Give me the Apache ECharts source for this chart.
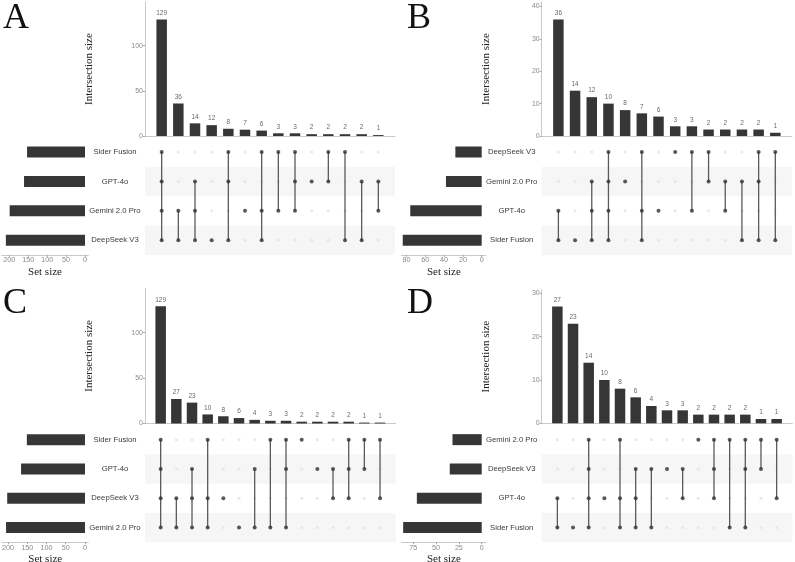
<!DOCTYPE html>
<html><head><meta charset="utf-8">
<script src="https://cdn.jsdelivr.net/npm/echarts@6/dist/echarts.min.js"></script>
<style>html,body{margin:0;padding:0;background:#fff}#c{width:795px;height:562px}</style>
</head><body><div id="c"></div>
<script>
const SF = 'Sider Fusion', GPT = 'GPT-4o', GEM = 'Gemini 2.0 Pro', DS = 'DeepSeek V3';

// Panel A
const setsA = [SF, GPT, GEM, DS];
const setSizesA = [153, 161, 199, 209];
const interSizesA = [129, 36, 14, 12, 8, 7, 6, 3, 3, 2, 2, 2, 2, 1];
const membersA = [[SF,GPT,GEM,DS],[GEM,DS],[GPT,GEM,DS],[DS],[SF,GPT,DS],[GEM],[SF,GEM,DS],[SF,GEM],[SF,GPT,GEM],[GPT],[SF,GPT],[SF,DS],[GPT,DS],[GPT,GEM]];
const barTicksA = [0, 50, 100];
const setTicksA = [0, 50, 100, 150, 200];

// Panel B
const setsB = [DS, GEM, GPT, SF];
const setSizesB = [28, 38, 76, 84];
const interSizesB = [36, 14, 12, 10, 8, 7, 6, 3, 3, 2, 2, 2, 2, 1];
const membersB = [[GPT,SF],[SF],[GEM,GPT,SF],[DS,GEM,GPT,SF],[GEM],[DS,GPT,SF],[GPT],[DS],[DS,GPT],[DS,GEM],[GEM,GPT],[GEM,SF],[DS,GEM,SF],[DS,SF]];
const barTicksB = [0, 10, 20, 30, 40];
const setTicksB = [0, 20, 40, 60, 80];

// Panel C
const setsC = [SF, GPT, DS, GEM];
const setSizesC = [151, 166, 202, 205];
const interSizesC = [129, 27, 23, 10, 8, 6, 4, 3, 3, 2, 2, 2, 2, 1, 1];
const membersC = [[SF,GPT,DS,GEM],[DS,GEM],[GPT,DS,GEM],[SF,DS,GEM],[DS],[GEM],[GPT,GEM],[SF,GEM],[SF,GPT,GEM],[SF],[GPT],[GPT,DS],[SF,GPT,DS],[SF,GPT],[SF,DS]];
const barTicksC = [0, 50, 100];
const setTicksC = [0, 50, 100, 150, 200];

// Panel D
const setsD = [GEM, DS, GPT, SF];
const setSizesD = [32, 35, 71, 86];
const interSizesD = [27, 23, 14, 10, 8, 6, 4, 3, 3, 2, 2, 2, 2, 1, 1];
const membersD = [[GPT,SF],[SF],[GEM,DS,GPT,SF],[GPT],[GEM,GPT,SF],[DS,GPT,SF],[DS,SF],[DS],[DS,GPT],[GEM],[GEM,DS,GPT],[GEM,SF],[GEM,DS,SF],[GEM,DS],[GEM,GPT]];
const barTicksD = [0, 10, 20, 30];
const setTicksD = [0, 25, 50, 75];

const panelLetters = ['A', 'B', 'C', 'D'];

// Layout (positions only)
const layouts = [
  {lx: 3, ly: 1, bar: {left: 145, top: 2, width: 250, height: 134}, yMax: 148.4,
   mat: {left: 145, top: 137.3, width: 250, height: 117.6}, set: {left: 1.7, width: 86.6}, setMin: -8.7, setMax: 220},
  {lx: 407, ly: 1, bar: {left: 541.7, top: 2, width: 250.3, height: 134}, yMax: 41.4,
   mat: {left: 541.7, top: 137.3, width: 250.3, height: 117.6}, set: {left: 401.7, width: 84.3}, setMin: -4.6, setMax: 85.1},
  {lx: 3, ly: 286, bar: {left: 145, top: 288.3, width: 250.7, height: 135.2}, yMax: 148.9,
   mat: {left: 145, top: 425, width: 250.7, height: 117.2}, set: {left: 2.2, width: 86.1}, setMin: -8.6, setMax: 215},
  {lx: 407, ly: 286, bar: {left: 541.7, top: 290, width: 250.6, height: 133.3}, yMax: 30.8,
   mat: {left: 541.7, top: 425, width: 250.6, height: 117.2}, set: {left: 401.7, width: 84.3}, setMin: -4.7, setMax: 87.6}
];

const SANS = 'Liberation Sans', SERIF = 'Liberation Serif';
const grid = [], xAxis = [], yAxis = [], series = [], title = [];

function buildPanel(k, sets, setSizes, inter, members, barTicks, setTicks) {
  const L = layouts[k];
  const g0 = grid.length;
  const n = inter.length;
  const gb = {outerBoundsMode: 'none', containLabel: false};
  grid.push(Object.assign({left: L.bar.left, top: L.bar.top, width: L.bar.width, height: L.bar.height}, gb));
  grid.push(Object.assign({left: L.mat.left, top: L.mat.top, width: L.mat.width, height: L.mat.height}, gb));
  grid.push(Object.assign({left: L.set.left, top: L.mat.top, width: L.set.width, height: L.mat.height}, gb));

  xAxis.push({gridIndex: g0, type: 'value', min: 0, max: n + 1, splitLine: {show: false},
    axisLine: {show: true, onZero: false, lineStyle: {color: '#c8c8c8', width: 1}}, axisTick: {show: false}, axisLabel: {show: false}});
  yAxis.push({gridIndex: g0, type: 'value', min: 0, max: L.yMax, splitLine: {show: false},
    axisLine: {show: true, lineStyle: {color: '#c8c8c8', width: 1}},
    axisTick: {show: true, length: 2, customValues: barTicks, lineStyle: {color: '#aaa'}},
    axisLabel: {customValues: barTicks, fontSize: 7, color: '#8a8a8a', fontFamily: SANS, margin: 2},
    name: 'Intersection size', nameLocation: 'middle', nameRotate: 90, nameGap: 50,
    nameTextStyle: {fontFamily: SERIF, fontSize: 11, color: '#222'}});
  xAxis.push({gridIndex: g0 + 1, type: 'value', min: 0, max: n + 1, show: false});
  yAxis.push({gridIndex: g0 + 1, type: 'category', data: sets, inverse: true,
    axisLine: {show: false}, axisTick: {show: false}, splitLine: {show: false},
    axisLabel: {show: true, margin: 30, align: 'center', fontSize: 7.7, color: '#3a3a3a', fontFamily: SANS}});
  xAxis.push({gridIndex: g0 + 2, type: 'value', inverse: true, min: L.setMin, max: L.setMax, splitLine: {show: false},
    axisLine: {show: true, onZero: false, lineStyle: {color: '#c8c8c8', width: 1}},
    axisTick: {show: true, length: 2, customValues: setTicks, lineStyle: {color: '#aaa'}},
    axisLabel: {customValues: setTicks, fontSize: 7.2, color: '#8a8a8a', fontFamily: SANS, margin: 2},
    name: 'Set size', nameLocation: 'middle', nameGap: 11.5,
    nameTextStyle: {fontFamily: SERIF, fontSize: 11, color: '#222'}});
  yAxis.push({gridIndex: g0 + 2, type: 'category', data: sets, inverse: true, show: false});

  series.push({type: 'bar', xAxisIndex: g0, yAxisIndex: g0, barWidth: 10.5,
    itemStyle: {color: '#363636'},
    label: {show: true, position: 'top', distance: 3, fontSize: 6.5, color: '#6a6a6a', fontFamily: SANS,
      formatter: p => String(p.value[1])},
    data: inter.map((v, i) => [i + 1, v])});

  series.push({type: 'custom', xAxisIndex: g0 + 1, yAxisIndex: g0 + 1, z: 0, silent: true,
    renderItem: (params, api) => {
      const cs = params.coordSys;
      const cy = api.coord([0, api.value(1)])[1];
      const h = api.size([0, 1])[1];
      return {type: 'rect', shape: {x: cs.x, y: cy - h / 2, width: cs.width, height: h}, style: {fill: '#f6f6f6'}};
    },
    data: [[0, 1], [0, 3]]});

  const empty = [], filled = [], links = [];
  members.forEach((m, i) => {
    const idx = m.map(s => sets.indexOf(s));
    sets.forEach((s, j) => { if (idx.indexOf(j) < 0) empty.push([i + 1, j]); else filled.push([i + 1, j]); });
    if (idx.length > 1) links.push([i + 1, Math.min(...idx), Math.max(...idx)]);
  });
  series.push({type: 'scatter', xAxisIndex: g0 + 1, yAxisIndex: g0 + 1, z: 1, symbolSize: 3,
    itemStyle: {color: '#e2e2e2'}, data: empty, silent: true});
  series.push({type: 'custom', xAxisIndex: g0 + 1, yAxisIndex: g0 + 1, z: 2, silent: true,
    encode: {x: 0, y: [1, 2]},
    renderItem: (params, api) => {
      const p1 = api.coord([api.value(0), api.value(1)]);
      const p2 = api.coord([api.value(0), api.value(2)]);
      return {type: 'line', shape: {x1: p1[0], y1: p1[1], x2: p2[0], y2: p2[1]}, style: {stroke: '#5a5a5a', lineWidth: 1.3}};
    },
    data: links});
  series.push({type: 'scatter', xAxisIndex: g0 + 1, yAxisIndex: g0 + 1, z: 3, symbolSize: 4,
    itemStyle: {color: '#303030'}, data: filled, silent: true});

  series.push({type: 'bar', xAxisIndex: g0 + 2, yAxisIndex: g0 + 2, barWidth: 11,
    itemStyle: {color: '#363636'}, data: setSizes});

  title.push({text: panelLetters[k], left: L.lx, top: L.ly, padding: 0,
    textStyle: {fontFamily: SERIF, fontSize: 36, fontWeight: 'normal', color: '#111'}});
}

buildPanel(0, setsA, setSizesA, interSizesA, membersA, barTicksA, setTicksA);
buildPanel(1, setsB, setSizesB, interSizesB, membersB, barTicksB, setTicksB);
buildPanel(2, setsC, setSizesC, interSizesC, membersC, barTicksC, setTicksC);
buildPanel(3, setsD, setSizesD, interSizesD, membersD, barTicksD, setTicksD);

const chart = echarts.init(document.getElementById('c'), null, {renderer: 'canvas'});
chart.setOption({animation: false, backgroundColor: '#fff', title, grid, xAxis, yAxis, series});
</script></body></html>
